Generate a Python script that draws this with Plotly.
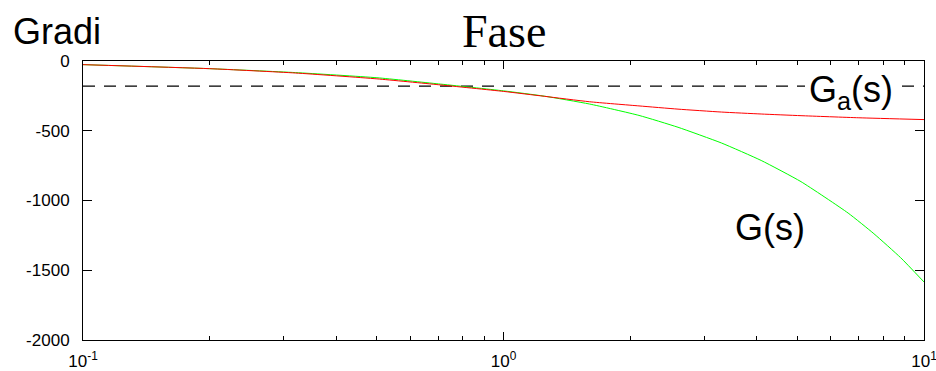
import plotly.graph_objects as go

# frequency (rad/s) samples
w_red = [0.1, 0.2, 0.32, 0.5, 0.7, 1.0, 1.25, 1.6, 2.1, 2.6, 3.3, 4.1, 5.1, 7.0, 10.0]
phase_red = [-26, -55, -86, -128, -170, -218, -253, -292, -322, -345, -366, -380, -392, -407, -420]

w_green = [0.1, 0.2, 0.32, 0.5, 0.7, 1.0, 1.25, 1.6, 2.1, 2.6, 3.3, 4.1, 5.1, 6.6, 7.6, 8.8, 10.0]
phase_green = [-26, -55, -83, -120, -164, -214, -252, -308, -390, -475, -588, -713, -865, -1090, -1238, -1410, -1584]

ref_x = [0.1, 10.0]
ref_level = -180

y_ticks = [0, -500, -1000, -1500, -2000]
y_ticktext = ["0", "-500", "-1000", "-1500", "-2000"]
x_ticks = [0.1, 1, 10]
x_ticktext = ["10<sup>-1</sup>", "10<sup>0</sup>", "10<sup>1</sup>"]
x_minor = [0.2, 0.3, 0.4, 0.5, 0.6, 0.7, 0.8, 0.9, 2, 3, 4, 5, 6, 7, 8, 9]

# plot-area geometry in pixels (for placing the free texts)
L, R, T, B = 83, 924, 61, 340
def px(x):
    return (x - L) / (R - L)
def py(y):
    return (B - y) / (B - T)

fig = go.Figure()
fig.add_trace(go.Scatter(x=ref_x, y=[ref_level, ref_level], mode="lines",
                         line=dict(color="black", width=1.3, dash="12px,9px"), hoverinfo="skip"))
fig.add_trace(go.Scatter(x=w_green, y=phase_green, mode="lines",
                         line=dict(color="#00ff00", width=1, shape="spline", smoothing=0.5)))
fig.add_trace(go.Scatter(x=w_red, y=phase_red, mode="lines",
                         line=dict(color="#ff0000", width=1, shape="spline", smoothing=0.5)))

font_sans = "Liberation Sans, Arial, sans-serif"

fig.update_layout(
    width=936, height=371,
    margin=dict(l=L, r=936 - R, t=T, b=371 - B),
    paper_bgcolor="white", plot_bgcolor="white",
    showlegend=False,
    font=dict(family=font_sans, size=17, color="black"),
    xaxis=dict(type="log", range=[-1, 1], tickvals=x_ticks, ticktext=x_ticktext,
               ticks="inside", ticklen=8, tickcolor="black", showline=True, linecolor="black",
               linewidth=1, mirror="ticks", showgrid=False, zeroline=False, automargin=False,
               minor=dict(tickvals=x_minor, ticks="inside", ticklen=4, tickcolor="black", showgrid=False),
               ticklabelstandoff=6, ticklabeloverflow="allow"),
    yaxis=dict(range=[-2000, 0], tickvals=y_ticks, ticktext=y_ticktext,
               ticks="inside", ticklen=9, tickcolor="black", showline=True, linecolor="black",
               linewidth=1, mirror="ticks", showgrid=False, zeroline=False, automargin=False,
               ticklabelstandoff=9),
    shapes=[
        dict(type="rect", xref="paper", yref="paper", x0=px(805), x1=px(897), y0=py(91), y1=py(80),
             fillcolor="white", line=dict(width=0), layer="above"),
    ],
    annotations=[
        dict(text="Fase", xref="paper", yref="paper", x=0.5, y=py(31), xanchor="center", yanchor="middle",
             showarrow=False, font=dict(family="Liberation Serif, Times New Roman, serif", size=46)),
        dict(text="Gradi", xref="paper", yref="paper", x=px(11), y=py(31), xanchor="left", yanchor="middle",
             showarrow=False, font=dict(family=font_sans, size=36)),
        dict(text="G<sub>a</sub>(s)", xref="paper", yref="paper", x=px(851), y=py(92),
             xanchor="center", yanchor="middle", showarrow=False, font=dict(family=font_sans, size=36)),
        dict(text="G(s)", xref="paper", yref="paper", x=px(770), y=py(227),
             xanchor="center", yanchor="middle", showarrow=False, font=dict(family=font_sans, size=36)),
    ],
)

fig.write_html("out.html")
